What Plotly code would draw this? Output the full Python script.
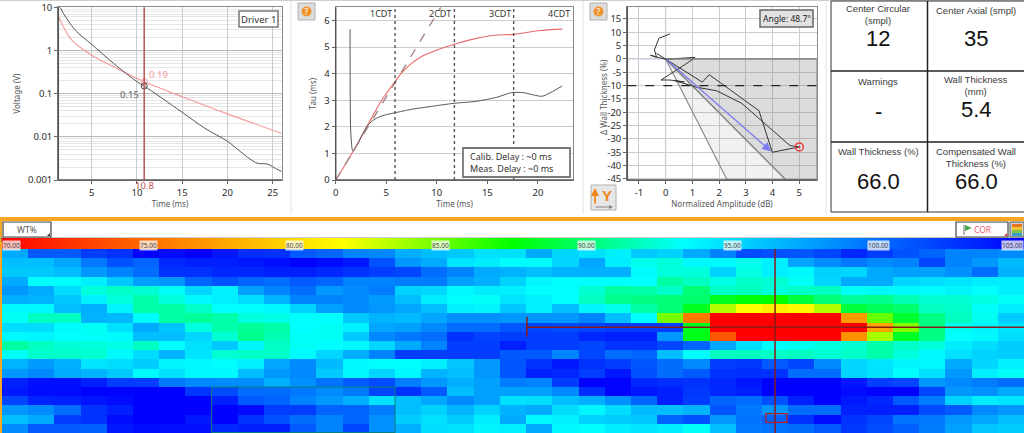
import plotly.graph_objects as go

W = 1024
H = 433
FONT = "Noto Sans"
CELL_FONT = "Liberation Sans"

# decay curves, voltage vs time
decay_t_meas = [1.3, 1.5, 1.86, 2.6, 3.34, 5, 7.4, 10, 10.8, 15, 17.5, 20, 21.4, 23.3, 24.4, 25.3, 26]
decay_v_meas = [10, 9.8, 7.27, 4.25, 2.73, 1.38, 0.505, 0.19, 0.15, 0.037, 0.0158, 0.0079, 0.0046, 0.00245, 0.00235, 0.00186, 0.00158]
decay_t_cal = [1.3, 1.86, 2.8, 5, 7.4, 9.2, 10.8, 15, 20, 26]
decay_v_cal = [6.4, 3.56, 1.75, 0.78, 0.42, 0.27, 0.19, 0.085, 0.034, 0.012]
cursor_time = [10.8]
cursor_meas = [0.15]
cursor_cal = [0.19]

# tau curves
tau_t_meas = [1.42, 1.48, 1.65, 1.75, 3.06, 3.6, 4.2, 5, 5.86, 7.5, 10, 11.8, 13.9, 15.9, 17.4, 18.5, 20.4, 21.3, 22.4]
tau_v_meas = [5.67, 1.88, 1.13, 1.09, 2.0, 2.22, 2.36, 2.46, 2.53, 2.66, 2.8, 2.89, 2.96, 3.11, 3.29, 3.29, 3.15, 3.3, 3.54]
tau_t_cal = [0, 1.6, 3.06, 4.55, 5, 5.86, 6.5, 7.5, 8.5, 10, 11.8, 13.9, 15.7, 17.6, 20, 22.4]
tau_v_cal = [0, 1.0, 2.0, 3.0, 3.25, 3.7, 4.02, 4.39, 4.65, 4.89, 5.12, 5.33, 5.45, 5.48, 5.62, 5.68]
tau_fit_t = [0, 10.4]
tau_fit_v = [0, 6.5]
cdt_times = [5.87, 11.74, 17.6]
cdt_labels = ["1CDT", "2CDT", "3CDT", "4CDT"]
cdt_label_x = [5.8, 11.65, 17.5, 23.35]

# normalized amplitude vs delta wall thickness
liss_amp = [0.16, -0.25, -0.42, -0.34, -0.57, -0.02, 1.1, 0.95, -0.17, 0.16, 0.7, 0.35, 1.16, 1.9, 2.84, 4.65, 5.0, 3.99, 3.49, 1.63, 1.37, 0.03, -0.34]
liss_dwt = [9.4, 7.75, 3.4, 0.6, 1.4, -0.1, 0.6, -0.6, -7.9, -7.9, -8.6, -8.2, -10.6, -11.9, -16.6, -32.5, -33, -35, -19.4, -5.9, -8.7, -0.4, 2.1]
zone_outer_amp = [0, 5.65, 5.65, 4.5, 0]
zone_outer_dwt = [0, 0, -45.4, -45.4, 0]
zone_inner_amp = [0, 4.5, 2.3, 0]
zone_inner_dwt = [0, -45.4, -45.4, 0]
angle_tip = [3.95, -34.7]
peak_point = [5.0, -33.0]
amp_ticks = [-1, 0, 1, 2, 3, 4, 5]
dwt_ticks = [-45, -40, -35, -30, -25, -20, -15, -10, -5, 0, 5, 10, 15]

cell_titles = ["Center Circular<br>(smpl)", "Center Axial (smpl)", "Warnings", "Wall Thickness<br>(mm)", "Wall Thickness (%)", "Compensated Wall<br>Thickness (%)"]
cell_values = ["12", "35", "-", "5.4", "66.0", "66.0"]

scale_ticks = [70, 75, 80, 85, 90, 95, 100, 105]

# WT% map, 20 rows by 39 columns
wt_rows = [
    [97.2, 100.9, 100.9, 102.2, 102.7, 105, 104.5, 105, 104, 103, 102.7, 100.9, 100.4, 99, 98.8, 97, 96.3, 95.8, 94.7, 94.7, 97.2, 95.2, 94.7, 94, 95.8, 95.4, 97.2, 99, 101.6, 101.3, 101.1, 101.8, 103.2, 102.2, 101.3, 100.4, 99, 99, 98.6],
    [96.3, 96.3, 97.4, 99.5, 101.3, 100.4, 103.2, 103.6, 103.6, 104, 104.3, 105, 104.5, 104, 101.3, 98.1, 97.2, 94.5, 94.2, 93.4, 93.5, 95.2, 97.4, 94.2, 92.9, 92.5, 93.6, 93.6, 93, 94, 97.4, 98.6, 99.5, 98.6, 99, 101.8, 99, 98.1, 96.5],
    [95.8, 95.8, 96.3, 98.1, 99, 100, 102.7, 102.7, 103.2, 103.2, 103.6, 103.6, 103.2, 102.7, 102.2, 101.8, 100, 99, 97.2, 96.8, 96.3, 96.8, 97, 97, 93.5, 92.5, 92.5, 95.4, 92.7, 94, 93.6, 95.4, 95.2, 97.2, 97.7, 97.7, 98.4, 100, 96.8],
    [97.2, 93.3, 93.3, 94, 95.8, 97.7, 98.1, 100.4, 101.3, 100.4, 100, 100.9, 100.4, 99, 99, 99.3, 99.3, 97.7, 97, 95.4, 93.8, 93.4, 93.3, 93.3, 93.3, 91.2, 91.9, 92.7, 92.1, 92.3, 93.1, 95.2, 97.2, 97.2, 95.2, 94.9, 94.5, 94.2, 94.2],
    [98.1, 97.2, 94.9, 92.5, 92.1, 92.3, 93.2, 95.2, 94, 97.7, 99, 100, 98.1, 98.6, 99.3, 95.4, 95.2, 93.6, 94.2, 94, 93.4, 93.3, 92.3, 91.2, 91.4, 92.1, 90.2, 92.1, 91.9, 92.5, 92.1, 91.9, 93.2, 93.6, 93.6, 93.4, 93.8, 93.3, 94],
    [97, 96.8, 95.8, 94, 92.5, 91.4, 92.5, 93.6, 94, 94.9, 96.8, 99, 99, 98.6, 97.9, 96.3, 94.2, 93.4, 93.2, 94.5, 94, 93.3, 91.9, 90.7, 90.5, 90.2, 90, 88.2, 87.7, 87.4, 88.9, 90.2, 91, 90.7, 91.6, 92.3, 92.3, 92.7, 93.2],
    [93.5, 93.6, 96.3, 97, 93.8, 91.4, 91.2, 92.1, 93.3, 93.4, 93.5, 95.4, 97.7, 98.6, 98.1, 97.4, 96.3, 94, 93.8, 95.8, 94, 96.3, 93.8, 92.9, 91.2, 90.2, 88.2, 83.4, 81.7, 81, 81.4, 83.4, 88.9, 89.5, 90, 91.9, 92.1, 93.2, 94.2],
    [93.1, 91.9, 91.9, 96.8, 96.5, 93.5, 91.2, 91, 91.4, 92.6, 92.8, 93.3, 93.3, 95.8, 96.8, 96.5, 97.4, 98.4, 98.4, 98.1, 98.1, 98.1, 99, 96.3, 93.4, 84.8, 75.5, 69, 68, 68, 68, 68, 77, 85.2, 88.6, 90.5, 91.9, 93, 95.6],
    [94.9, 94.9, 93.5, 93.1, 94.7, 97.2, 96, 92.6, 91.4, 91, 91.4, 93.3, 93.2, 94, 97.4, 97.7, 98.8, 100, 100, 101.1, 101.8, 101.6, 101.8, 102.2, 102.2, 102.2, 88.2, 69, 68, 68, 68, 68, 70, 77.5, 84.5, 90.5, 93, 93.8, 94.5],
    [93.5, 93.8, 93.3, 93.2, 93.5, 96.3, 96.3, 95.2, 92.3, 90.7, 91.6, 93.2, 93.1, 95.8, 98.8, 99.5, 100, 102.7, 102, 102.2, 102.2, 102.2, 103.2, 103.6, 103.6, 98.1, 88, 74, 69, 68, 68, 69, 76.6, 83.7, 88.4, 90.5, 93.3, 93.6, 94.9],
    [91.2, 91.9, 92.4, 92.5, 92.8, 92, 93.3, 94.7, 95.8, 93.8, 92, 93.1, 93.3, 93.6, 95.2, 97.2, 99, 102.2, 102.2, 103.6, 102.2, 102.2, 101.8, 102.7, 102.7, 101.8, 100.4, 97.4, 94.9, 93.4, 93, 92.7, 92.3, 91.4, 92.1, 92.5, 94.2, 94.9, 95.6],
    [93.1, 92.2, 92.1, 92.3, 93.5, 94.9, 96.8, 94.5, 92.3, 92.1, 92.1, 93.5, 95.2, 97, 99, 102.2, 102.2, 102.2, 102.2, 100.9, 100.9, 99, 101.8, 100, 100.4, 96.3, 93.4, 91.9, 91.9, 92.1, 91.9, 92.3, 92.1, 91.4, 92.5, 93.6, 94.7, 95.4, 95.6],
    [96.8, 97.9, 97, 94.5, 94.9, 95.6, 93.8, 93.6, 93.4, 94, 97.4, 98.6, 96.5, 93.6, 93.4, 93.4, 94, 96, 98.1, 101.1, 102.7, 103.9, 102.7, 102.2, 101.1, 100, 98.6, 102.2, 102.5, 100.9, 101.8, 98.6, 95.2, 94.5, 93.8, 93.6, 97.2, 95.2, 94],
    [98.1, 98.8, 97.2, 96.8, 95.8, 93.5, 94.7, 93.6, 93.6, 96.3, 98.1, 98.8, 95.8, 93.6, 95.2, 93.6, 96.8, 96.3, 98.1, 101.1, 103.6, 103.2, 102.2, 104, 101.3, 100, 100.9, 102.7, 102.9, 102.7, 100, 100, 95.2, 94.7, 93.4, 94.7, 98.1, 94, 93.2],
    [103.6, 104.3, 104.3, 103.6, 102.2, 102.2, 99.5, 98.8, 98.6, 98.6, 97, 98.4, 99.7, 100.9, 101.6, 99.3, 98.1, 97, 97.7, 99.3, 99, 102.2, 105, 104.8, 103.2, 102.9, 102.7, 103.2, 104, 105, 105, 105, 104, 102.2, 101.8, 98.1, 98.8, 99.3, 100],
    [103.9, 104.5, 104.5, 105, 104.8, 105, 105, 102.5, 101.6, 100, 100, 99.5, 98.6, 99.5, 101.8, 102.7, 100.9, 96.3, 97.7, 97.7, 97.7, 98.8, 102.9, 104.8, 104, 103.6, 102.5, 103.2, 103.6, 105, 105, 105, 104.5, 104.8, 105, 101.8, 98.1, 98.4, 97.2],
    [101.8, 103.4, 103.6, 104.1, 104.5, 105, 105, 105, 103.6, 100.9, 100.4, 99, 98.1, 97, 94.7, 96.3, 97.4, 98.6, 97.7, 94.7, 94.9, 96.3, 97, 98.4, 100.4, 103.6, 102.2, 100.4, 100, 101.3, 103.6, 105, 103.9, 103.2, 100.9, 99.3, 95.4, 94.2, 94.5],
    [98.1, 98.6, 100, 102.7, 103.6, 105, 105, 105, 105, 104.5, 102.2, 102.2, 100.4, 100.4, 99.3, 96.3, 95.4, 96.8, 95.4, 96.8, 97.2, 94.9, 93.8, 94.9, 96.5, 96.3, 96.8, 101.1, 99.5, 98.1, 100, 100, 103.6, 103.6, 103.6, 101.6, 100.9, 98.8, 98.1],
    [96.3, 97.2, 102.2, 102.7, 104.5, 105, 105, 104, 105, 102.7, 101.3, 100, 99, 100.4, 98.4, 95.6, 94.7, 95.6, 94.2, 97.2, 93.6, 94, 95.4, 95.6, 95.8, 100.4, 101.3, 98.1, 99.7, 100.4, 102.7, 104.5, 102.7, 101.8, 99.7, 99.5, 98.1, 97.4, 96.3],
    [98.6, 100.9, 100.9, 100.6, 104, 104.5, 104.3, 104.3, 103.2, 103.6, 103.6, 100.9, 99, 101.8, 98.4, 97, 94.9, 94.7, 93.8, 94, 97.2, 93.6, 93.4, 94.2, 94.5, 94.2, 93.2, 96.3, 99.5, 99.7, 100, 100.9, 102.5, 101.6, 100.6, 99.3, 97.7, 96, 95.6],
]
wt_scale = [[0, "#ff0000"], [1 / 3, "#ffff00"], [0.5, "#00ff00"], [2 / 3, "#00ffff"], [1, "#0000ff"]]


def px(x):
    return x / W


def py(y):
    return 1 - y / H


fig = go.Figure()

# map first, the plots sit over it in their own axes
fig.add_trace(
    go.Heatmap(
        z=wt_rows,
        xaxis="x4",
        yaxis="y4",
        colorscale=wt_scale,
        zmin=70,
        zmax=105,
        xgap=0,
        ygap=0,
        colorbar=dict(
            orientation="h",
            x=px(2),
            xanchor="left",
            y=py(249),
            yanchor="bottom",
            len=1022 / W,
            lenmode="fraction",
            thickness=11,
            thicknessmode="pixels",
            xpad=0,
            ypad=0,
            outlinewidth=0,
            ticks="",
            showticklabels=False,
        ),
    )
)

# chart 1
fig.add_trace(go.Scatter(x=decay_t_cal, y=decay_v_cal, mode="lines", line=dict(color="#f59a9a", width=1.1, shape="spline"), xaxis="x", yaxis="y"))
fig.add_trace(go.Scatter(x=decay_t_meas, y=decay_v_meas, mode="lines", line=dict(color="#555555", width=1, shape="spline"), xaxis="x", yaxis="y"))
fig.add_trace(go.Scatter(x=cursor_time, y=cursor_cal, mode="markers", marker=dict(symbol="circle-open", size=6, color="#f59a9a"), xaxis="x", yaxis="y"))
fig.add_trace(go.Scatter(x=cursor_time, y=cursor_meas, mode="markers", marker=dict(symbol="circle-open", size=6, color="#444444"), xaxis="x", yaxis="y"))

# chart 2
fig.add_trace(go.Scatter(x=tau_t_cal, y=tau_v_cal, mode="lines", line=dict(color="#e86a6a", width=1.1, shape="spline"), xaxis="x2", yaxis="y2"))
fig.add_trace(go.Scatter(x=tau_t_meas, y=tau_v_meas, mode="lines", line=dict(color="#555555", width=1, shape="spline", smoothing=0.6), xaxis="x2", yaxis="y2"))
fig.add_trace(go.Scatter(x=tau_fit_t, y=tau_fit_v, mode="lines", line=dict(color="#a58585", width=1.4, dash="dash"), xaxis="x2", yaxis="y2"))

# chart 3
fig.add_trace(go.Scatter(x=zone_outer_amp, y=zone_outer_dwt, mode="lines", fill="toself", fillcolor="rgba(120,120,120,0.26)", line=dict(color="#8a8a8a", width=1.2), xaxis="x3", yaxis="y3"))
fig.add_trace(go.Scatter(x=zone_inner_amp, y=zone_inner_dwt, mode="lines", fill="toself", fillcolor="rgba(120,120,120,0.1)", line=dict(color="#8a8a8a", width=1.2), xaxis="x3", yaxis="y3"))
fig.add_trace(go.Scatter(x=liss_amp, y=liss_dwt, mode="lines", line=dict(color="#333333", width=1), xaxis="x3", yaxis="y3"))
fig.add_trace(go.Scatter(x=[peak_point[0]], y=[peak_point[1]], mode="markers", marker=dict(symbol="circle-open-dot", size=8, color="#e84040", line=dict(width=1.5)), xaxis="x3", yaxis="y3"))


def axis_style(**kw):
    d = dict(
        showline=True,
        mirror=True,
        linecolor="#8a8a8a",
        linewidth=1.2,
        ticks="outside",
        ticklen=3,
        tickcolor="#666666",
        tickfont=dict(family=FONT, size=9.5, color="#2a2a2a"),
        title_font=dict(family=FONT, size=8, color="#555555"),
        zeroline=False,
        showgrid=True,
        gridcolor="#cccccc",
        gridwidth=1,
    )
    d.update(kw)
    return d


fig.update_layout(
    width=W,
    height=H,
    margin=dict(l=0, r=0, t=0, b=0, autoexpand=False),
    paper_bgcolor="white",
    plot_bgcolor="white",
    showlegend=False,
    xaxis=axis_style(
        domain=[px(58.3), px(281.7)], range=[1.3, 26], anchor="y",
        tickvals=[5, 10, 15, 20, 25], title=dict(text="Time (ms)", standoff=3),
    ),
    yaxis=axis_style(
        domain=[py(180), py(7.3)], type="log", range=[-3, 1.001], anchor="x",
        tickvals=[0.001, 0.01, 0.1, 1, 10], ticktext=["0.001", "0.01", "0.1", "1", "10"],
        title=dict(text="Voltage (V)", standoff=6), gridcolor="#b8b8b8",
        minor=dict(dtick="D1", showgrid=True, gridcolor="#e6e6e6", gridwidth=1, ticks=""),
    ),
    xaxis2=axis_style(
        domain=[px(335.7), px(573.3)], range=[0, 23.5], anchor="y2",
        tickvals=[0, 5, 10, 15, 20], title=dict(text="Time (ms)", standoff=3), showgrid=False,
    ),
    yaxis2=axis_style(
        domain=[py(180), py(7.3)], range=[0, 6.5], anchor="x2",
        tickvals=[0, 1, 2, 3, 4, 5, 6], title=dict(text="Tau (ms)", standoff=6),
    ),
    xaxis3=axis_style(
        domain=[px(627.3), px(816.7)], range=[-1.435, 5.65], anchor="y3",
        tickvals=amp_ticks, ticktext=[str(v) for v in amp_ticks], title=dict(text="Normalized Amplitude (dB)", standoff=3),
    ),
    yaxis3=axis_style(
        domain=[py(180), py(6.7)], range=[-45.4, 19.6], anchor="x3",
        tickvals=dwt_ticks, ticktext=[str(v) for v in dwt_ticks],
    ),
    xaxis4=dict(domain=[px(2), 1], range=[-0.5, 38.5], anchor="y4", visible=False),
    yaxis4=dict(domain=[0, py(249)], range=[19.5, -0.5], anchor="x4", visible=False),
)

shapes = []
ann = []


def rect(x0, y0, x1, y1, fill=None, line="#666666", lw=1):
    shapes.append(dict(type="rect", xref="paper", yref="paper", x0=px(x0), x1=px(x1), y0=py(y0), y1=py(y1),
                       fillcolor=fill if fill else "rgba(0,0,0,0)", line=dict(color=line, width=lw), layer="above"))


def seg(x0, y0, x1, y1, color, lw=1, dash="solid"):
    shapes.append(dict(type="line", xref="paper", yref="paper", x0=px(x0), x1=px(x1), y0=py(y0), y1=py(y1),
                       line=dict(color=color, width=lw, dash=dash), layer="above"))


def label(x, y, text, size=10, color="#333333", family=FONT, xanchor="center", **kw):
    ann.append(dict(xref="paper", yref="paper", x=px(x), y=py(y), text=text, showarrow=False, xanchor=xanchor, yanchor="middle",
                    font=dict(size=size, color=color, family=family), **kw))


# panel separators
seg(291, 0, 291, 214, "#e2e2e2", 1)
seg(583, 0, 583, 214, "#e2e2e2", 1)
seg(826, 0, 826, 214, "#e2e2e2", 1)
seg(0, 0, 1024, 0, "#cfcfcf", 2)

# darker left and bottom frame edges
for left, right, top in ((58.3, 281.7, 7.3), (335.7, 573.3, 7.3), (627.3, 816.7, 6.7)):
    seg(left, top, left, 180, "#555555", 1.5)
    seg(left, 180, right, 180, "#555555", 1.5)

# chart 1 extras
shapes.append(dict(type="line", xref="x", yref="paper", x0=cursor_time[0], x1=cursor_time[0], y0=py(180), y1=py(7.3), line=dict(color="#b85c5c", width=1.6), layer="above"))
ann.append(dict(xref="x", yref="paper", x=cursor_time[0], y=py(186), text="10.8", showarrow=False, font=dict(size=9.5, color="#c05050", family=FONT), yanchor="middle"))
label(158, 74, f"{cursor_cal[0]}", 9.5, "#f59a9a")
label(129.5, 94, f"{cursor_meas[0]}", 9.5, "#666666")
rect(239, 11, 278, 27, "white", "#777777", 1.5)
label(258.5, 19, "Driver 1", 9.5)

# chart 2 extras
for t in cdt_times:
    shapes.append(dict(type="line", xref="x2", yref="paper", x0=t, x1=t, y0=py(180), y1=py(7.3), line=dict(color="#555555", width=1.4, dash="dot"), layer="above"))
for name, t in zip(cdt_labels, cdt_label_x):
    ann.append(dict(xref="x2", yref="paper", x=t, y=py(13), text=name, showarrow=False, xanchor="right", yanchor="middle", font=dict(size=9, color="#333333", family=FONT)))
rect(463, 148, 570, 177, "white", "#777777", 1.8)
label(468, 162.5, "Calib. Delay : ~0 ms<br>Meas. Delay : ~0 ms", 9, xanchor="left", align="left")

# chart 3 extras
label(603, 97, "Δ Wall Thickness (%)", 8, "#555555", textangle=-90)
shapes.append(dict(type="line", xref="x3", yref="y3", x0=0, x1=0, y0=-45.4, y1=19.6, line=dict(color="#d5dcf7", width=1.5), layer="below"))
shapes.append(dict(type="line", xref="x3", yref="y3", x0=-1.435, x1=5.65, y0=0, y1=0, line=dict(color="#d5dcf7", width=1.5), layer="below"))
shapes.append(dict(type="line", xref="paper", yref="y3", x0=px(627.3), x1=px(816.7), y0=-10, y1=-10, line=dict(color="#222222", width=1.2, dash="dash"), layer="above"))
shapes.append(dict(type="line", xref="x3", yref="y3", x0=0, x1=5.65, y0=0, y1=0, line=dict(color="#888888", width=1.2), layer="above"))
ann.append(dict(xref="x3", yref="y3", axref="x3", ayref="y3", x=angle_tip[0], y=angle_tip[1], ax=0, ay=0, text="", showarrow=True, arrowhead=2, arrowsize=1.4, arrowwidth=1.3, arrowcolor="#7c7cf0"))
rect(760, 10, 813, 27, "#e2e2e2", "#666666", 1.5)
label(786.5, 18.5, "Angle: 48.7°", 8.5, "#222222")

# help buttons
for bx in (298, 590):
    rect(bx, 3, bx + 17, 20, "#dcdcdc", "#b0b0b0", 1)
    shapes.append(dict(type="circle", xref="paper", yref="paper", x0=px(bx + 3.5), x1=px(bx + 13.5), y0=py(6.5), y1=py(16.5), fillcolor="#f0922b", line=dict(width=0), layer="above"))
    label(bx + 8.5, 11.5, "?", 8.5, "white", family="DejaVu Sans")

# Y button
rect(591, 185, 616, 210, "#e6e6e6", "#b0b0b0", 1)
label(607, 195, "<b>Y</b>", 15, "#f0851a", family=CELL_FONT)
ann.append(dict(xref="paper", yref="paper", axref="pixel", ayref="pixel", x=px(595), y=py(188), ax=0, ay=17, text="", showarrow=True, arrowhead=2, arrowsize=0.9, arrowwidth=1.8, arrowcolor="#f0851a"))
ann.append(dict(xref="paper", yref="paper", axref="pixel", ayref="pixel", x=px(613), y=py(207), ax=-19, ay=0, text="", showarrow=True, arrowhead=2, arrowsize=0.8, arrowwidth=1, arrowcolor="#888888"))

# value table
rect(831, 1, 1025, 212, None, "#333333", 1)
seg(927.5, 1, 927.5, 212, "#222222", 1.5)
seg(831, 71, 1024, 71, "#222222", 1.5)
seg(831, 142, 1024, 142, "#222222", 1.5)
cell_cx = [878, 976]
cell_top = [1, 72, 143]
value_dy = [38, 38, 39.5, 38, 38, 38]
for i, (title, value) in enumerate(zip(cell_titles, cell_values)):
    cx = cell_cx[i % 2]
    top = cell_top[i // 2]
    two_lines = "<br>" in title
    label(cx, top + (14 if two_lines else 9), title, 9.5, "#3a3a3a", family=CELL_FONT)
    label(cx, top + value_dy[i], value, 22, "#111111", family=CELL_FONT)

# heatmap header
shapes.append(dict(type="rect", xref="paper", yref="paper", x0=0, x1=1, y0=py(221), y1=py(217), fillcolor="#f5a623", line=dict(width=0), layer="above"))
shapes.append(dict(type="rect", xref="paper", yref="paper", x0=0, x1=px(2), y0=0, y1=py(217), fillcolor="#f5a623", line=dict(width=0), layer="above"))
seg(0, 238, 1024, 238, "#999999", 1)
rect(3, 222, 51, 237, "white", "#444444", 1.2)
label(27, 229.5, "WT%", 8.5, "#555555")
shapes.append(dict(type="path", xref="paper", yref="paper", path=f"M {px(50)} {py(233)} L {px(50)} {py(236)} L {px(47)} {py(236)} Z", fillcolor="#333333", line=dict(width=0), layer="above"))
rect(956, 222, 1008, 237, "white", "#444444", 1.2)
label(983, 229.5, "COR", 8.5, "#ee5a6a")
shapes.append(dict(type="path", xref="paper", yref="paper", path=f"M {px(965)} {py(225)} L {px(972)} {py(228)} L {px(965)} {py(231)} Z", fillcolor="#4aa84a", line=dict(width=0), layer="above"))
seg(964, 225, 964, 235, "#888888", 1.2)
shapes.append(dict(type="path", xref="paper", yref="paper", path=f"M {px(1007)} {py(233)} L {px(1007)} {py(236)} L {px(1004)} {py(236)} Z", fillcolor="#ee3333", line=dict(width=0), layer="above"))
rect(1010, 222, 1024, 237, "#cfcfcf", "#555555", 1)
for y0, color in zip([224, 227, 230, 233], ["#e87722", "#f2c230", "#7cc44a", "#35a0c8"]):
    rect(1012, y0, 1022, y0 + 3, color, color, 0)

# colour scale ticks and labels
for v in scale_ticks:
    x = 2 + (v - 70) * 1022 / 35
    seg(x, 238, x, 242, "#444444", 1)
    anchor = "left" if v == 70 else ("right" if v == 105 else "center")
    ann.append(dict(xref="paper", yref="paper", x=px(x), y=py(245.5), text=f"{v:.2f}", showarrow=False, xanchor=anchor, yanchor="middle",
                    font=dict(size=6.5, color="#444444", family=FONT), bgcolor="rgba(255,255,255,0.75)", borderpad=0))

# map overlays, in map cells
cross_col = 29
cross_row = 8
shapes.append(dict(type="line", xref="x4", yref="y4", x0=19.53, x1=38.5, y0=cross_row, y1=cross_row, line=dict(color="#8b1a1a", width=1.5), layer="above"))
shapes.append(dict(type="line", xref="x4", yref="y4", x0=19.53, x1=19.53, y0=6.87, y1=9.05, line=dict(color="#8b1a1a", width=1.5), layer="above"))
shapes.append(dict(type="line", xref="x4", yref="y4", x0=cross_col, x1=cross_col, y0=-0.5, y1=19.5, line=dict(color="#8b1a1a", width=1.5), layer="above"))
shapes.append(dict(type="rect", xref="x4", yref="y4", x0=28.65, x1=29.45, y0=17.4, y1=18.35, line=dict(color="#b02020", width=1.3), layer="above"))
shapes.append(dict(type="rect", xref="x4", yref="y4", x0=7.5, x1=14.5, y0=14.5, y1=19.45, line=dict(color="#0a7f7f", width=1), layer="above"))

fig.update_layout(shapes=shapes, annotations=ann)

fig.write_html(
    "out.html",
    config={"displayModeBar": False},
    post_script="document.body.style.margin='0';document.body.style.overflow='hidden';",
)
